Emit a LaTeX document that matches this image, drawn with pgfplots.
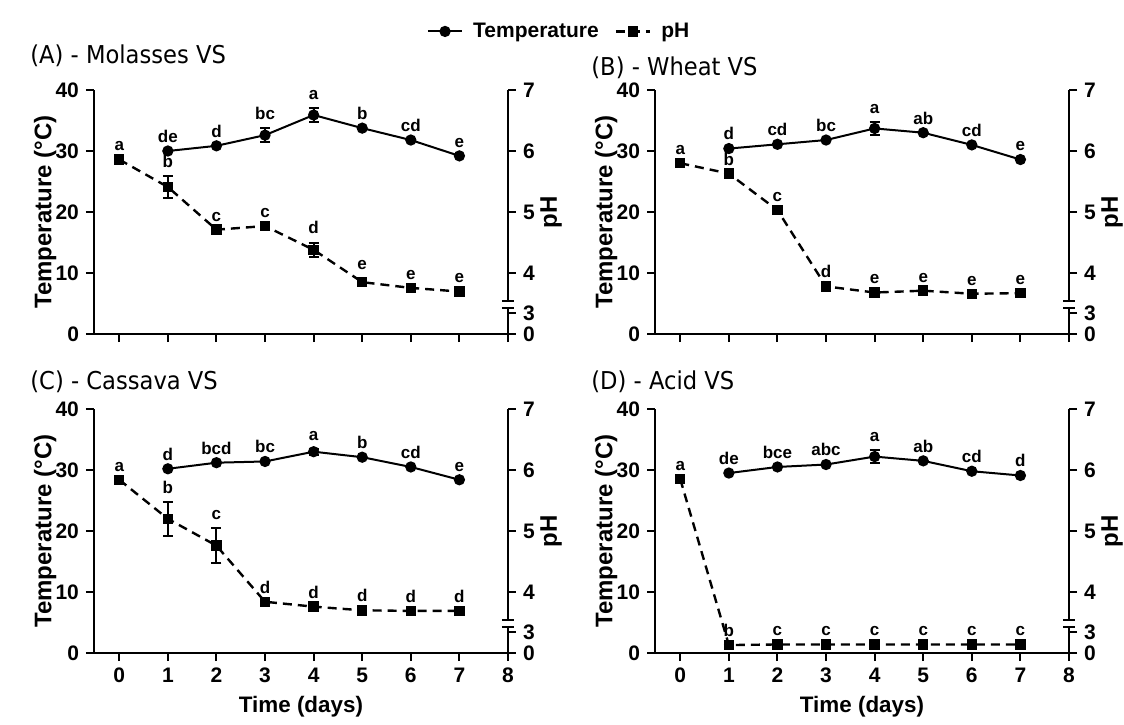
\documentclass[border=0pt]{standalone}
\usepackage{fontspec}
\setmainfont{Liberation Sans}
\newfontfamily\titlefont[FakeStretch=0.92]{DejaVu Sans}
\usepackage{pgfplots}
\usepackage{pgfplotstable}
\pgfplotsset{compat=1.18}

% temperature and pH (pH drawn on the temperature scale of the left axis)
\pgfplotstableread{
x y e l
1 30.0 0 de
2 30.85 0 d
3 32.6 1.1 bc
4 35.9 1.2 a
5 33.75 0 b
6 31.8 0 cd
7 29.2 0 e
}\tAt
\pgfplotstableread{
x y e l
0 28.6 0 a
1 24.1 1.8 b
2 17.1 0 c
3 17.7 0 c
4 13.8 1.2 d
5 8.5 0.6 e
6 7.56 0 e
7 6.96 0 e
}\tAp
\pgfplotstableread{
x y e l
1 30.4 0 d
2 31.1 0 cd
3 31.8 0 bc
4 33.7 1.1 a
5 33.0 0 ab
6 31.0 0 cd
7 28.6 0 e
}\tBt
\pgfplotstableread{
x y e l
0 28.0 0 a
1 26.3 0 b
2 20.3 0 c
3 7.8 0 d
4 6.8 0 e
5 7.1 0 e
6 6.6 0 e
7 6.7 0 e
}\tBp
\pgfplotstableread{
x y e l
1 30.2 0 d
2 31.2 0 bcd
3 31.4 0 bc
4 33.0 0.5 a
5 32.1 0 b
6 30.5 0 cd
7 28.4 0 e
}\tCt
\pgfplotstableread{
x y e l
0 28.4 0 a
1 22.0 2.8 b
2 17.6 2.9 c
3 8.4 0 d
4 7.6 0 d
5 7.0 0 d
6 6.9 0 d
7 6.9 0 d
}\tCp
\pgfplotstableread{
x y e l
1 29.5 0 de
2 30.5 0 bce
3 30.9 0 abc
4 32.2 1.0 a
5 31.5 0 ab
6 29.8 0 cd
7 29.1 0 d
}\tDt
\pgfplotstableread{
x y e l
0 28.5 0 a
1 1.3 0 b
2 1.4 0 c
3 1.4 0 c
4 1.4 0 c
5 1.4 0 c
6 1.4 0 c
7 1.4 0 c
}\tDp

\pgfplotsset{
  common/.style={scale only axis, width=207pt, height=122pt,
    xmin=-0.52, xmax=8, ymin=0, ymax=40, clip=false,
    tick align=outside, major tick length=4pt,
    tick style={line width=1pt, black},
    ticklabel style={font=\fontsize{10.5}{12}\selectfont\bfseries},
    /pgf/number format/assume math mode=true},
  panel/.style={common,
    axis x line*=bottom, axis y line*=left,
    axis line style={-, line width=1pt},
    xtick={0,...,8}, ytick={0,10,20,30,40},
    ylabel={Temperature (°C)},
    ylabel style={at={(axis description cs:-0.118,0.5)}, anchor=center,
      font=\fontsize{12}{14}\selectfont\bfseries},
    xlabel style={at={(axis description cs:0.5,0)}, yshift=-27pt, anchor=center,
      font=\fontsize{11.2}{13}\selectfont\bfseries}},
  phaxis/.style={common,
    axis x line=none, axis y line*=right,
    y axis line style={draw=none},
    ytick={0,3.4,10,20,30,40}, yticklabels={0,3,4,5,6,7},
    ylabel={pH},
    ylabel style={at={(axis description cs:1.104,0.5)}, anchor=center,
      font=\fontsize{12}{14}\selectfont\bfseries}},
  temp/.style={black, solid, line width=1pt, mark=*, mark size=2.3pt, mark options={solid},
    error bars/.cd, y dir=both, y explicit,
    error bar style={line width=1pt, solid},
    error mark options={rotate=90, mark size=2.5pt, line width=1pt}},
  ph/.style={black, line width=1.2pt, dash pattern=on 4.5pt off 3pt,
    mark=square*, mark size=2pt, mark options={solid},
    error bars/.cd, y dir=both, y explicit,
    error bar style={line width=1pt, solid},
    error mark options={rotate=90, mark size=2.5pt, line width=1pt}},
  lbl/.style={draw=none, mark=none, forget plot, nodes near coords,
    point meta=explicit symbolic,
    every node near coord/.append style={font=\fontsize{8.5}{10}\selectfont\bfseries,
      anchor=south, inner sep=0pt, yshift=4pt}},
}

% #1 position, #2 title, #3 title baseline above the axis, #4 temperature table, #5 pH table, #6 extra options
\newcommand{\panel}[6]{%
\begin{axis}[panel, at={#1}, anchor=south west, #6]
\addplot[temp] table[x=x, y=y, y error=e] {#4};
\addplot[ph] table[x=x, y=y, y error=e] {#5};
\addplot[lbl] table[x=x, y expr=\thisrow{y}+\thisrow{e}, meta=l] {#4};
\addplot[lbl] table[x=x, y expr=\thisrow{y}+\thisrow{e}, meta=l] {#5};
\node[anchor=base west, inner sep=0pt, xshift=-32pt, yshift=#3,
  font=\titlefont\fontsize{12.3}{14}\selectfont] at (rel axis cs:0,1) {#2};
\end{axis}
\begin{axis}[phaxis, at={#1}, anchor=south west]
\draw[line width=1pt] (axis cs:8,0) -- (axis cs:8,4.3);
\draw[line width=1pt] (axis cs:8,5.4) -- (axis cs:8,40);
\draw[line width=1pt] ([xshift=-3pt]axis cs:8,4.3) -- ([xshift=3pt]axis cs:8,4.3);
\draw[line width=1pt] ([xshift=-3pt]axis cs:8,5.4) -- ([xshift=3pt]axis cs:8,5.4);
\end{axis}}

\begin{document}
\begin{tikzpicture}
\path[fill=white, use as bounding box] (-47pt,-195pt) rectangle (515pt,167pt);
\panel{(0pt,0pt)}{(A) - Molasses VS}{13.5pt}{\tAt}{\tAp}{xticklabels={},
  legend entries={Temperature,pH},
  legend style={at={(axis description cs:1.126,1.24)}, anchor=center, draw=none, fill=none,
    legend columns=2, font=\fontsize{10.5}{12}\selectfont\bfseries,
    /tikz/every odd column/.append style={column sep=3pt},
    /tikz/every even column/.append style={column sep=6pt}}}
\panel{(280.5pt,0pt)}{(B) - Wheat VS}{7.5pt}{\tBt}{\tBp}{xticklabels={}}
\panel{(0pt,-159.5pt)}{(C) - Cassava VS}{10pt}{\tCt}{\tCp}{xlabel={Time (days)}}
\panel{(280.5pt,-159.5pt)}{(D) - Acid VS}{10pt}{\tDt}{\tDp}{xlabel={Time (days)}}
\end{tikzpicture}
\end{document}
